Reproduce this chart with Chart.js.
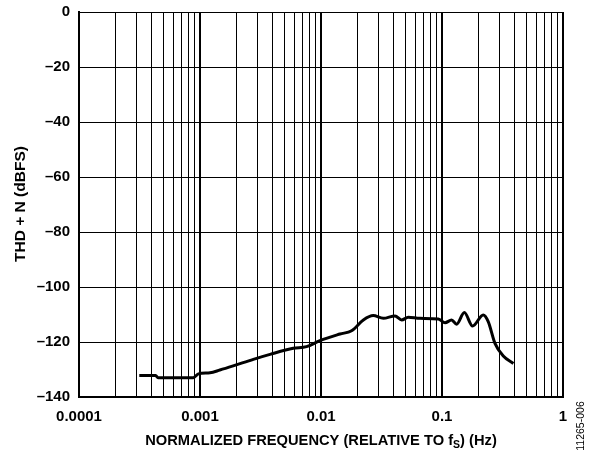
<!DOCTYPE html>
<html><head><meta charset="utf-8">
<script src="https://cdn.jsdelivr.net/npm/chart.js@4/dist/chart.umd.min.js"></script>
<style>html,body{margin:0;padding:0;background:#fff}</style>
</head><body>
<canvas id="c" width="602" height="455"></canvas>
<script>
// Normalized frequency (relative to fS)
const freq = [0.000315, 0.00043, 0.00045, 0.00088, 0.00097, 0.00121, 0.00146, 0.00188, 0.00276, 0.00379, 0.0059, 0.0076, 0.0098, 0.01435, 0.0179, 0.0224, 0.027, 0.0327, 0.0409, 0.0464, 0.0526, 0.0658, 0.0933, 0.106, 0.120, 0.132, 0.153, 0.179, 0.219, 0.241, 0.274, 0.321, 0.389];
// THD + N (dBFS)
const thdN = [-132.2, -132.2, -133.0, -133.0, -131.6, -131.2, -130.2, -128.7, -126.3, -124.5, -122.3, -121.7, -119.5, -117.1, -115.9, -112.0, -110.4, -111.4, -110.5, -112.0, -111.0, -111.4, -111.6, -113.0, -112.0, -113.5, -109.3, -114.2, -110.2, -112.6, -120.5, -125.1, -127.8];
const decades = [0.0001, 0.001, 0.01, 0.1, 1];
const decadeLabels = ['0.0001', '0.001', '0.01', '0.1', '1'];
const yTicks = [0, -20, -40, -60, -80, -100, -120, -140];
const xTitleMain = 'NORMALIZED FREQUENCY (RELATIVE TO f';
const xTitleSub = 'S';
const xTitleTail = ') (Hz)';
const yTitle = 'THD + N (dBFS)';
const figureId = '11265-006';

const FONT = '"Liberation Sans", Arial, sans-serif';
const TITLE = 'bold 14.7px ' + FONT;

const textPlugin = {
  id: 'texts',
  afterDraw(chart) {
    const ctx = chart.ctx;
    const a = chart.chartArea;
    ctx.save();
    ctx.fillStyle = '#000';
    ctx.font = TITLE;
    const subFont = 'bold 10.5px ' + FONT;
    const w1 = ctx.measureText(xTitleMain).width;
    ctx.font = subFont;
    const w2 = ctx.measureText(xTitleSub).width;
    ctx.font = TITLE;
    const w3 = ctx.measureText(xTitleTail).width;
    const total = w1 + w2 + w3;
    let x = (a.left + a.right) / 2 - total / 2;
    const y = 441;
    ctx.textBaseline = 'middle';
    ctx.textAlign = 'left';
    ctx.fillText(xTitleMain, x, y);
    ctx.font = subFont;
    ctx.fillText(xTitleSub, x + w1, y + 4);
    ctx.font = TITLE;
    ctx.fillText(xTitleTail, x + w1 + w2, y);
    ctx.save();
    ctx.translate(21, 204);
    ctx.rotate(-Math.PI / 2);
    ctx.textAlign = 'center';
    ctx.textBaseline = 'middle';
    ctx.font = 'bold 15.5px ' + FONT;
    ctx.fillText(yTitle, 0, 0);
    ctx.restore();
    ctx.save();
    ctx.translate(581, 426);
    ctx.rotate(-Math.PI / 2);
    ctx.font = '10.5px ' + FONT;
    ctx.textAlign = 'center';
    ctx.textBaseline = 'middle';
    ctx.fillText(figureId, 0, 0);
    ctx.restore();
    ctx.restore();
  }
};

new Chart(document.getElementById('c'), {
  type: 'line',
  data: {
    datasets: [{
      data: freq.map((f, i) => ({ x: f, y: thdN[i] })),
      borderColor: '#000',
      borderWidth: 3,
      pointRadius: 0,
      cubicInterpolationMode: 'monotone',
      fill: false
    }]
  },
  options: {
    responsive: false,
    animation: false,
    layout: { padding: { left: 0, top: 12, right: 39, bottom: 0 } },
    plugins: { legend: { display: false }, tooltip: { enabled: false } },
    scales: {
      x: {
        type: 'logarithmic',
        min: decades[0],
        max: decades[decades.length - 1],
        afterBuildTicks(scale) {
          const t = [];
          for (let d = 0; d < decades.length; d++) {
            if (d === decades.length - 1) { t.push({ value: decades[d] }); break; }
            for (let m = 1; m <= 9; m++) t.push({ value: decades[d] * m });
          }
          scale.ticks = t;
        },
        afterFit(scale) { scale.height = 58; scale.paddingLeft = 0; scale.paddingRight = 0; },
        ticks: {
          autoSkip: false,
          maxRotation: 0,
          padding: 11,
          color: '#000',
          font: { family: FONT, size: 15, weight: 'bold' },
          callback(v) {
            const i = decades.findIndex(d => Math.abs(d - v) / d < 1e-6);
            return i >= 0 ? decadeLabels[i] : '';
          }
        },
        grid: {
          color: '#000',
          drawTicks: false,
          lineWidth(ctx) {
            const v = ctx.tick ? ctx.tick.value : 0;
            return decades.some(d => Math.abs(d - v) / d < 1e-6) ? 2 : 1;
          }
        },
        border: { color: '#000', width: 2 }
      },
      y: {
        type: 'linear',
        min: yTicks[yTicks.length - 1],
        max: yTicks[0],
        afterBuildTicks(scale) { scale.ticks = yTicks.slice().reverse().map(v => ({ value: v })); },
        afterFit(scale) { scale.width = 79; scale.paddingTop = 0; scale.paddingBottom = 0; },
        ticks: {
          padding: 9,
          color: '#000',
          font: { family: FONT, size: 15, weight: 'bold' },
          callback(v) { return v < 0 ? '\u2013' + Math.abs(v) : String(v); }
        },
        grid: { color: '#000', drawTicks: false, lineWidth: 1 },
        border: { color: '#000', width: 2 }
      }
    }
  },
  plugins: [textPlugin]
});
</script>
</body></html>
